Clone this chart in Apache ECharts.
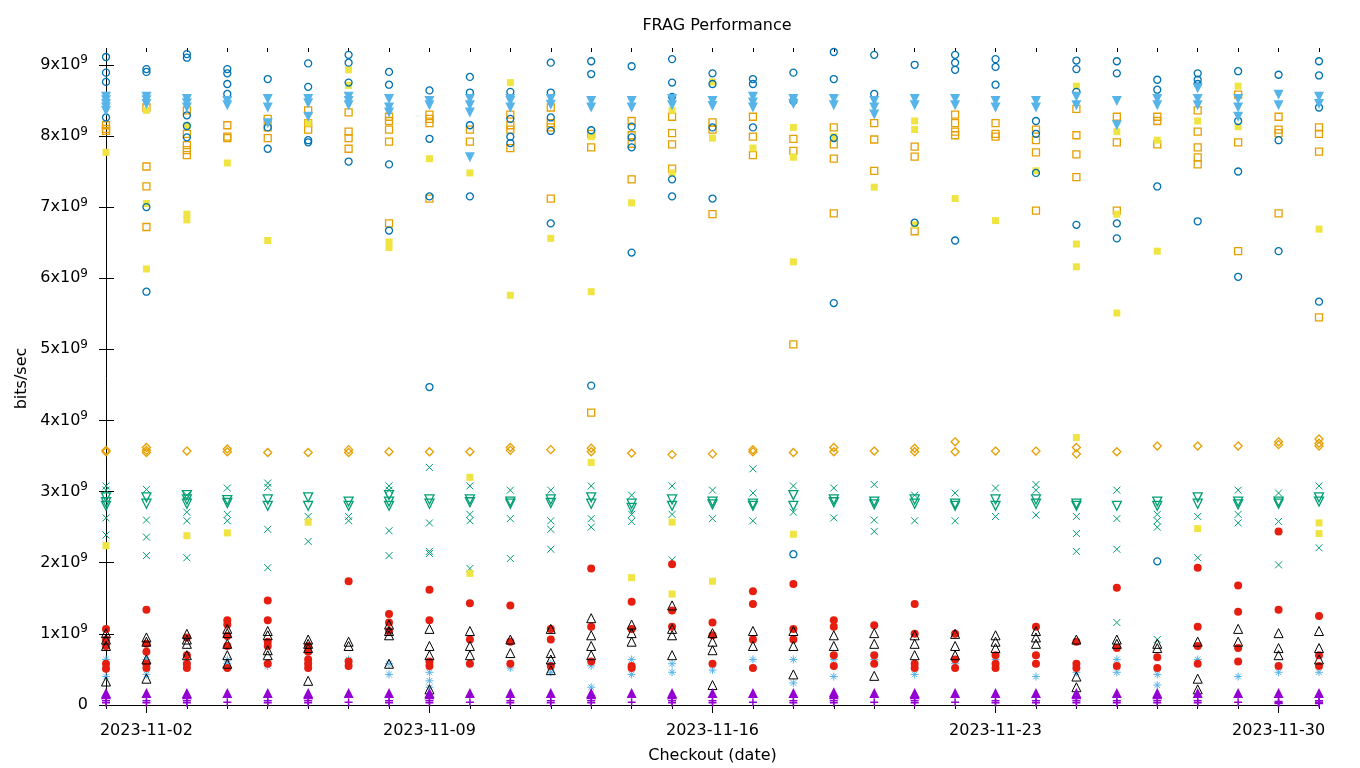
<!DOCTYPE html>
<html>
<head>
<meta charset="utf-8">
<script src="https://cdn.jsdelivr.net/npm/echarts@6/dist/echarts.min.js"></script>
<style>
html,body{margin:0;padding:0;background:#fff;}
#chart{width:1360px;height:768px;}
</style>
</head>
<body>
<div id="chart"></div>
<script>
// ---- data (values in units of 1e9 bits/sec) ----
const dates = ['2023-11-01','2023-11-02','2023-11-03','2023-11-04','2023-11-05','2023-11-06','2023-11-07','2023-11-08','2023-11-09','2023-11-10','2023-11-11','2023-11-12','2023-11-13','2023-11-14','2023-11-15','2023-11-16','2023-11-17','2023-11-18','2023-11-19','2023-11-20','2023-11-21','2023-11-22','2023-11-23','2023-11-24','2023-11-25','2023-11-26','2023-11-27','2023-11-28','2023-11-29','2023-11-30','2023-12-01'];
const xTickLabels = ['2023-11-02','2023-11-09','2023-11-16','2023-11-23','2023-11-30'];
const yTickValues = [0,1,2,3,4,5,6,7,8,9];
const UNIT = 1e9;

const purplePlus = [[0.06,0.03],[0.06,0.03],[0.06,0.03],[0.04],[0.06,0.03],[0.06,0.03],[0.04],[0.06,0.03],[0.06,0.03],[0.04],[0.06,0.03],[0.06,0.03],[0.06,0.03],[0.04],[0.06,0.03],[0.06,0.03],[0.04],[0.06,0.03],[0.06,0.03],[0.04],[0.06,0.03],[0.04],[0.06,0.03],[0.06,0.03],[0.06,0.03],[0.06,0.03],[0.06,0.03],[0.06,0.03],[0.04],[0.05,0.03,0.02],[0.06,0.04,0.02]];
const greenX = [[3.08,3.02,2.63,2.39],[3.03,2.60,2.36,2.10],[2.95,2.71,2.59,2.07],[3.05,2.68,2.59],[3.12,3.06,2.47,1.93],[2.65,2.30],[2.65,2.59],[3.08,3.02,2.45,2.10],[3.34,2.56,2.16,2.13],[3.08,2.68,2.59,1.92],[3.02,2.62,2.06],[3.02,2.59,2.47,2.19],[3.08,2.62,2.50],[2.95,2.68,2.58],[3.08,2.68,2.04],[3.02,2.62],[3.32,2.98,2.59],[3.08,2.71],[3.05,2.63],[3.10,2.60,2.44],[2.95,2.59],[2.98,2.59],[3.05,2.65],[3.10,3.02,2.67],[2.65,2.41,2.16],[3.02,2.62,2.19,1.16],[2.68,2.59,2.50,0.92],[2.65,2.07],[3.02,2.68,2.56],[2.98,2.58,1.97],[3.08,2.21]];
const lightBlueStar = [[0.64,0.52,0.40],[0.64,0.43],[0.58,0.55],[0.64,0.58],[0.58,0.55],[0.58],[0.64],[0.58,0.43],[0.46,0.34,0.25],[0.58],[0.52],[0.58,0.46],[0.55,0.25],[0.64,0.43],[0.58,0.46],[0.49],[0.64],[0.64,0.31],[0.64,0.40],[0.64],[0.43],[0.58],[0.64],[0.40],[0.46],[0.64,0.46],[0.43,0.28],[0.64],[0.40],[0.46],[0.46]];
const orangeSquare = [[8.15,8.10,8.07],[8.40,7.57,7.29,6.72],[8.36,8.03,7.87,7.80,7.73],[8.15,7.99,7.97],[8.24,8.12,7.97],[8.36,8.18,8.09],[8.33,8.06,7.97,7.82],[8.27,8.21,8.09,7.92,6.77],[8.30,8.24,8.18,7.12],[8.09,7.92],[8.30,8.15,8.09,7.83],[8.40,8.18,8.12,7.12],[8.03,7.84,4.11],[8.21,8.01,7.89,7.39],[8.27,8.04,7.88,7.54],[8.19,8.09,6.90],[8.27,7.99,7.73],[7.96,7.79,5.07],[8.12,7.88,7.68,6.91],[8.18,7.95,7.51],[7.85,7.71,6.66],[8.30,8.18,8.06,8.01],[8.18,8.03,7.99],[8.09,7.94,7.77,6.95],[8.38,8.01,7.74,7.42],[8.27,7.91,6.95],[8.27,8.21,7.88],[8.36,8.06,7.84,7.70,7.60],[8.58,7.91,6.38],[8.27,8.09,8.04,6.91],[8.12,8.03,7.78,5.45]];
const yellowSquare = [[7.77,2.24],[8.36,7.05,6.13],[8.14,6.90,6.82,2.38],[7.62,2.42],[6.53],[8.18,2.57],[8.93,8.71],[6.51,6.43],[7.68],[7.48,3.20,1.85],[8.75,5.76],[6.56],[7.99,5.81,3.41],[7.06,1.79],[8.36,7.48,2.57,1.56],[8.76,7.97,1.74],[7.83],[8.12,7.70,6.23,2.40],[7.99],[7.28],[8.21,8.09,6.75],[7.12],[6.81],[7.51],[8.70,6.48,6.16,3.76],[8.06,6.90,5.51],[7.94,6.38],[8.21,2.48],[8.70,8.13],[],[6.69,2.56,2.41]];
const blueCircle = [[9.11,8.89,8.76,8.26],[8.94,8.90,7.00,5.81],[9.15,9.10,8.29,8.14,7.98],[8.94,8.88,8.73,8.59],[8.80,8.12,7.82],[9.02,8.69,7.94,7.91],[9.14,9.03,8.75,7.64],[8.90,8.72,7.60,6.67],[8.64,7.96,7.15,4.47],[8.83,8.61,8.15,7.15],[8.62,8.24,7.99,7.90],[9.03,8.61,8.26,8.07,6.77],[9.05,8.87,8.08,4.49],[8.98,8.13,7.98,7.84,6.36],[9.08,8.75,8.55,7.39,7.15],[8.88,8.73,8.12,7.12],[8.80,8.73,8.12],[8.89,8.49,2.12],[9.18,8.80,7.97,5.65],[9.14,8.59],[9.00,6.78],[9.14,9.03,8.93,6.53],[9.08,8.97,8.72],[8.21,8.03,7.48],[9.06,8.94,8.62,6.75],[9.05,8.88,6.77,6.56],[8.79,8.65,7.29,2.02],[8.88,8.79,8.73,6.80],[8.91,8.21,7.50,6.02],[8.86,7.94,6.38],[9.05,8.85,8.40,5.67]];
const redCircle = [[1.07,0.92,0.83,0.58,0.51],[1.34,0.86,0.75,0.58,0.52],[0.95,0.70,0.58,0.52],[1.19,1.13,0.97,0.83,0.52],[1.47,1.19,0.89,0.83,0.58],[0.83,0.75,0.64,0.58,0.52],[1.74,0.61,0.55],[1.28,1.16,1.04],[1.62,1.19,0.61,0.55],[1.43,0.92,0.58],[1.40,0.89,0.58],[1.07,0.92,0.55],[1.92,1.10,0.61],[1.45,1.07,0.55,0.52],[1.98,1.33,1.10],[1.16,0.98,0.58],[1.60,1.42,0.92,0.52],[1.70,1.07,0.92],[1.19,1.10,0.70,0.55],[1.12,0.70,0.58],[1.42,1.00,0.58,0.52],[1.00,0.64,0.52],[0.70,0.58,0.52],[1.10,0.70,0.58],[0.89,0.58,0.52],[1.65,0.80,0.55],[0.67,0.52],[1.93,1.10,0.83,0.58],[1.68,1.31,0.80,0.61],[2.44,1.34,0.55],[1.25,0.70,0.55]];
const blackTriangle = [[1.01,0.92,0.83,0.33],[0.95,0.89,0.64,0.37],[1.00,0.92,0.86,0.70],[1.07,1.01,0.86,0.70,0.58],[1.04,0.98,0.77,0.70],[0.92,0.86,0.80,0.34],[0.89,0.83],[1.13,1.04,0.98,0.58],[1.07,0.83,0.70,0.22],[1.04,0.83,0.70],[0.92,0.73],[1.07,0.73,0.64,0.49],[1.22,0.98,0.83,0.70],[1.13,1.01,0.89],[1.40,1.07,0.98,0.70],[1.01,0.89,0.77,0.28],[1.04,0.83],[1.04,0.83,0.43],[0.98,0.83],[1.01,0.86,0.41],[0.98,0.86,0.70],[1.00,0.83,0.70],[0.98,0.89,0.80],[1.04,0.95,0.86],[0.92,0.40,0.25],[0.92,0.86],[0.86,0.80],[0.89,0.37,0.22],[1.07,0.89],[1.01,0.80,0.70],[1.04,0.80,0.64]];
const purpleTriangle = [[0.17,0.15],[0.17],[0.17,0.15],[0.17],[0.17],[0.17,0.15],[0.17],[0.17],[0.17,0.15],[0.17],[0.17],[0.17],[0.17,0.15],[0.17],[0.17,0.15],[0.17],[0.17],[0.17],[0.18,0.15],[0.17],[0.17,0.15],[0.17],[0.17],[0.17],[0.17,0.15],[0.17],[0.17,0.15],[0.17],[0.17],[0.17],[0.17]];
const greenTriangleDown = [[2.92,2.85,2.80],[2.92,2.83],[2.95,2.89,2.83],[2.88,2.84],[2.89,2.80],[2.92,2.80],[2.86,2.80],[2.95,2.86,2.80],[2.89,2.83],[2.89,2.85],[2.86,2.83],[2.89,2.84],[2.92,2.83],[2.83,2.77],[2.89,2.80],[2.86,2.82],[2.83,2.80],[2.95,2.80],[2.89,2.85],[2.86,2.82],[2.89,2.83],[2.83,2.80],[2.89,2.80],[2.89,2.83],[2.83,2.80],[2.80],[2.86,2.80],[2.92,2.83],[2.86,2.82],[2.86,2.83],[2.92,2.86]];
const lightBlueTriangleDown = [[8.55,8.50,8.45,8.40,8.35],[8.55,8.50,8.45],[8.52,8.46,8.40],[8.49,8.43],[8.52,8.40,8.18],[8.52,8.46,8.27],[8.55,8.49,8.43],[8.52,8.40,8.33],[8.49,8.43],[8.52,8.43,8.33,7.70],[8.52,8.49,8.40],[8.52,8.44],[8.49,8.40],[8.49,8.40],[8.52,8.43],[8.49,8.42],[8.55,8.47,8.40],[8.52,8.45],[8.52,8.43],[8.49,8.40,8.30],[8.52,8.43],[8.52,8.43],[8.49,8.40],[8.49,8.40],[8.55,8.43],[8.49,8.15],[8.52,8.43],[8.67,8.52,8.43],[8.52,8.40,8.27],[8.58,8.43],[8.55,8.45]];
const orangeDiamond = [[3.58,3.56],[3.62,3.58,3.55],[3.57],[3.60,3.56],[3.55],[3.55],[3.59,3.55],[3.56],[3.56],[3.56],[3.62,3.58],[3.59],[3.61,3.56],[3.54],[3.52],[3.53],[3.59,3.56],[3.55],[3.62,3.56],[3.57],[3.61,3.56],[3.70,3.56],[3.57],[3.57],[3.62,3.53],[3.56],[3.64],[3.64],[3.64],[3.70,3.66],[3.74,3.68,3.64]];

// ---- build ----
function pts(arr){ const out=[]; arr.forEach((vals,d)=>vals.forEach(v=>out.push([d, v*UNIT]))); return out; }
const majorIdx = xTickLabels.map(s=>dates.indexOf(s));
const allIdx = dates.map((s,i)=>i);
const yTicks = yTickValues.map(v=>v*UNIT);

const C = {purple:'#9400d3', green:'#009e73', lblue:'#56b4e9', orange:'#e69f00', yellow:'#f0e442', blue:'#0072b2', red:'#e51e10', black:'#000000'};
const PLUS = 'path://M0,5L10,5M5,0L5,10';
const CROSS = 'path://M0,0L10,10M10,0L0,10';
const STAR = 'path://M0,5L10,5M5,0L5,10M1.5,1.5L8.5,8.5M8.5,1.5L1.5,8.5';

function open(name, data, symbol, size, color, rot, bw){
  return {name, type:'scatter', data:pts(data), symbol, symbolSize:size, symbolRotate:rot||0,
    itemStyle:{color:'rgba(0,0,0,0)', borderColor:color, borderWidth:bw||1, opacity:1}, emphasis:{disabled:true}, silent:true};
}
function filled(name, data, symbol, size, color, rot){
  return {name, type:'scatter', data:pts(data), symbol, symbolSize:size, symbolRotate:rot||0,
    itemStyle:{color:color, opacity:1}, emphasis:{disabled:true}, silent:true};
}

const FONT = 'DejaVu Sans';
const series = [
  open('purple plus', purplePlus, PLUS, 8, C.purple, 0, 1.5),
  open('green x', greenX, CROSS, 7, C.green),
  open('lightblue star', lightBlueStar, STAR, 8, C.lblue),
  open('orange square', orangeSquare, 'rect', 7, C.orange, 0, 1.3),
  filled('yellow square', yellowSquare, 'rect', 7, C.yellow),
  open('blue circle', blueCircle, 'circle', 7, C.blue, 0, 1.3),
  filled('red circle', redCircle, 'circle', 8, C.red),
  open('black triangle', blackTriangle, 'triangle', 9, C.black),
  filled('purple triangle', purpleTriangle, 'triangle', 10, C.purple),
  open('green triangle down', greenTriangleDown, 'triangle', 9, C.green, 180, 1.3),
  filled('lightblue triangle down', lightBlueTriangleDown, 'triangle', 10, C.lblue, 180),
  open('orange diamond', orangeDiamond, 'diamond', 8, C.orange, 0, 1.3)
];

const axisLineStyle = {color:'#000', width:1};
const chart = echarts.init(document.getElementById('chart'), null, {renderer:'canvas'});
chart.setOption({
  animation:false,
  backgroundColor:'#fff',
  textStyle:{fontFamily:FONT},
  title:{text:'FRAG Performance', left:712, top:13, textAlign:'center',
    textStyle:{fontFamily:FONT, fontSize:16, fontWeight:'normal', color:'#000'}},
  grid:{left:106, right:41, top:52, bottom:63, containLabel:false, outerBoundsMode:'none'},
  xAxis:[
    {type:'value', min:0, max:30, position:'bottom',
      axisLine:{show:true, onZero:false, lineStyle:axisLineStyle},
      axisTick:{show:true, length:8, customValues:majorIdx, lineStyle:axisLineStyle},
      axisLabel:{show:true, customValues:majorIdx, formatter:v=>dates[Math.round(v)], fontFamily:FONT, fontSize:16, color:'#000', margin:18},
      splitLine:{show:false},
      name:'Checkout (date)', nameLocation:'middle', nameGap:43,
      nameTextStyle:{fontFamily:FONT, fontSize:16, color:'#000'}},
    {type:'value', min:0, max:30, position:'bottom',
      axisLine:{show:false}, axisTick:{show:true, length:4, customValues:allIdx, lineStyle:axisLineStyle},
      axisLabel:{show:false}, splitLine:{show:false}},
    {type:'value', min:0, max:30, position:'top',
      axisLine:{show:false}, axisTick:{show:true, length:8, customValues:majorIdx, lineStyle:axisLineStyle},
      axisLabel:{show:false}, splitLine:{show:false}},
    {type:'value', min:0, max:30, position:'top',
      axisLine:{show:false}, axisTick:{show:true, length:4, customValues:allIdx, lineStyle:axisLineStyle},
      axisLabel:{show:false}, splitLine:{show:false}}
  ],
  yAxis:[
    {type:'value', min:0, max:9.18e9, position:'left',
      axisLine:{show:true, onZero:false, lineStyle:axisLineStyle},
      axisTick:{show:true, length:7, customValues:yTicks, lineStyle:axisLineStyle},
      axisLabel:{show:true, customValues:yTicks, margin:18, color:'#000', fontFamily:FONT, fontSize:16,
        formatter:v=>{ const n=Math.round(v/UNIT); return n===0 ? '{a|0}' : '{a|'+n+'x10}{s|9}'; },
        rich:{a:{fontFamily:FONT, fontSize:16, color:'#000'}, s:{fontFamily:FONT, fontSize:12, color:'#000', padding:[0,0,9,0]}}},
      splitLine:{show:false},
      name:'bits/sec', nameLocation:'middle', nameGap:72, nameRotate:90,
      nameTextStyle:{fontFamily:FONT, fontSize:16, color:'#000'}},
    {type:'value', min:0, max:9.18e9, position:'right',
      axisLine:{show:false}, axisTick:{show:true, length:8, customValues:yTicks, lineStyle:axisLineStyle},
      axisLabel:{show:false}, splitLine:{show:false}}
  ],
  series: series
});
</script>
</body>
</html>
